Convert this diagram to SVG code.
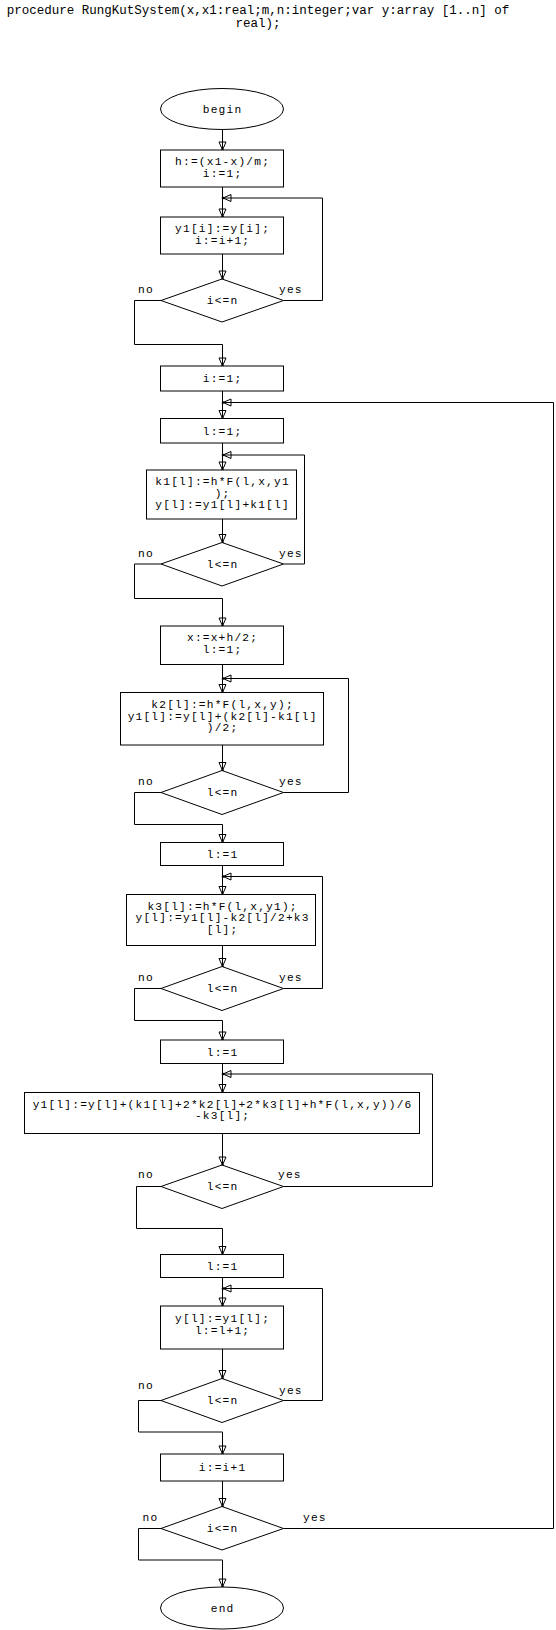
<svg xmlns="http://www.w3.org/2000/svg" width="556" height="1630" viewBox="0 0 556 1630">
<style>
text{font-family:"Liberation Mono","Courier New",monospace;font-size:11.2px;letter-spacing:1.2px;fill:#000}
.t{font-size:12.5px;letter-spacing:0}
.c{text-anchor:middle}
.s{fill:#fff;stroke:#000;stroke-width:1}
.l{fill:none;stroke:#000;stroke-width:1}
.a{marker-end:url(#ar)}
</style>
<defs>
<marker id="ar" markerUnits="userSpaceOnUse" markerWidth="14" markerHeight="14" viewBox="-10 -7 14 14" refX="0" refY="0" orient="auto" overflow="visible">
<path d="M-8,-3.5 L0,0 L-8,3.5 Z" fill="none" stroke="#000" stroke-width="1"/>
<circle r="1.3" fill="#000"/>
</marker>
</defs>
<rect width="556" height="1630" fill="#fff"/>
<g id="title">
<text class="t c" x="258" y="13.5">procedure RungKutSystem(x,x1:real;m,n:integer;var y:array [1..n] of</text>
<text class="t c" x="258" y="27">real);</text>
</g>
<g id="connectors">
<path class="l a" d="M222.5,129.5V150"/>
<path class="l a" d="M222.5,187V217"/>
<path class="l a" d="M222.5,254V279"/>
<path class="l a" d="M283.5,300.5H322.5V198H223"/>
<path class="l a" d="M161,300.5H134.5V344.5H222.5V366"/>
<path class="l a" d="M222.5,391V418.5"/>
<path class="l a" d="M222.5,443V470"/>
<path class="l a" d="M222.5,519V542.5"/>
<path class="l a" d="M283.5,564H304.5V455H223"/>
<path class="l a" d="M161,564H134.5V598.5H222.5V626"/>
<path class="l a" d="M222.5,664.5V692.5"/>
<path class="l a" d="M222.5,745V770.5"/>
<path class="l a" d="M283.5,792.5H348.5V678.5H223"/>
<path class="l a" d="M161,792.5H134.5V824.5H222.5V842.5"/>
<path class="l a" d="M222.5,865.5V894.5"/>
<path class="l a" d="M222.5,945.5V966.5"/>
<path class="l a" d="M283.5,988.5H322.5V876.5H223"/>
<path class="l a" d="M161,988.5H134.5V1020.5H222.5V1040"/>
<path class="l a" d="M222.5,1063.5V1092.5"/>
<path class="l a" d="M222.5,1133.5V1165"/>
<path class="l a" d="M283.5,1186.5H432.5V1074H223"/>
<path class="l a" d="M161,1186.5H136.5V1228.5H222.5V1254.5"/>
<path class="l a" d="M222.5,1277.5V1306"/>
<path class="l a" d="M222.5,1349V1378.5"/>
<path class="l a" d="M283.5,1400.5H322.5V1288.5H223"/>
<path class="l a" d="M161,1400.5H138.5V1432H222.5V1454"/>
<path class="l a" d="M222.5,1481V1506.5"/>
<path class="l a" d="M283.5,1528.5H553.5V402.5H223"/>
<path class="l a" d="M161,1528.5H138.5V1560H222.5V1587"/>
</g>
<g id="begin">
<ellipse class="s" cx="222" cy="109" rx="61.5" ry="20.5"/>
<text class="c" x="222.6" y="113">begin</text>
</g>
<g id="n1">
<rect class="s" x="160.5" y="150" width="123" height="37"/>
<text class="c" x="222.6" y="165">h:=(x1-x)/m;</text>
<text class="c" x="222.6" y="176.5">i:=1;</text>
</g>
<g id="n2">
<rect class="s" x="160.5" y="217" width="123" height="37"/>
<text class="c" x="222.6" y="232">y1[i]:=y[i];</text>
<text class="c" x="222.6" y="243.5">i:=i+1;</text>
</g>
<g id="d1">
<polygon class="s" points="222,279 283.5,300.5 222,322 161,300.5"/>
<text class="c" x="222.6" y="304">i&lt;=n</text>
<text x="138" y="292.5">no</text>
<text x="279" y="292.5">yes</text>
</g>
<g id="n3">
<rect class="s" x="160.5" y="366" width="123" height="25"/>
<text class="c" x="222.6" y="382">i:=1;</text>
</g>
<g id="n4">
<rect class="s" x="160.5" y="418.5" width="123" height="24.5"/>
<text class="c" x="222.6" y="434.5">l:=1;</text>
</g>
<g id="n5">
<rect class="s" x="146.5" y="470" width="150" height="49"/>
<text class="c" x="222.6" y="485">k1[l]:=h*F(l,x,y1</text>
<text class="c" x="222.6" y="496.5">);</text>
<text class="c" x="222.6" y="508">y[l]:=y1[l]+k1[l]</text>
</g>
<g id="d2">
<polygon class="s" points="222,542.5 283.5,564 222,586 161,564"/>
<text class="c" x="222.6" y="567.5">l&lt;=n</text>
<text x="138" y="556.5">no</text>
<text x="279" y="556.5">yes</text>
</g>
<g id="n6">
<rect class="s" x="160.5" y="626" width="123" height="38.5"/>
<text class="c" x="222.6" y="641">x:=x+h/2;</text>
<text class="c" x="222.6" y="652.5">l:=1;</text>
</g>
<g id="n7">
<rect class="s" x="120.5" y="692.5" width="203" height="52.5"/>
<text class="c" x="222.6" y="708">k2[l]:=h*F(l,x,y);</text>
<text class="c" x="222.6" y="719.5">y1[l]:=y[l]+(k2[l]-k1[l]</text>
<text class="c" x="222.6" y="731">)/2;</text>
</g>
<g id="d3">
<polygon class="s" points="222,770.5 283.5,792.5 222,814.5 161,792.5"/>
<text class="c" x="222.6" y="796">l&lt;=n</text>
<text x="138" y="785">no</text>
<text x="279" y="785">yes</text>
</g>
<g id="n8">
<rect class="s" x="160.5" y="842.5" width="123" height="23"/>
<text class="c" x="222.6" y="858">l:=1</text>
</g>
<g id="n9">
<rect class="s" x="126.5" y="894.5" width="189" height="51"/>
<text class="c" x="222.6" y="909.5">k3[l]:=h*F(l,x,y1);</text>
<text class="c" x="222.6" y="921">y[l]:=y1[l]-k2[l]/2+k3</text>
<text class="c" x="222.6" y="932.5">[l];</text>
</g>
<g id="d4">
<polygon class="s" points="222,966.5 283.5,988.5 222,1010.5 161,988.5"/>
<text class="c" x="222.6" y="992">l&lt;=n</text>
<text x="138" y="981">no</text>
<text x="279" y="981">yes</text>
</g>
<g id="n10">
<rect class="s" x="160.5" y="1040" width="123" height="23.5"/>
<text class="c" x="222.6" y="1055.5">l:=1</text>
</g>
<g id="n11">
<rect class="s" x="24.5" y="1092.5" width="395" height="41"/>
<text class="c" x="222.6" y="1107.5">y1[l]:=y[l]+(k1[l]+2*k2[l]+2*k3[l]+h*F(l,x,y))/6</text>
<text class="c" x="222.6" y="1119">-k3[l];</text>
</g>
<g id="d5">
<polygon class="s" points="222,1165 283.5,1186.5 222,1208.5 161,1186.5"/>
<text class="c" x="222.6" y="1190">l&lt;=n</text>
<text x="138" y="1178">no</text>
<text x="278" y="1178">yes</text>
</g>
<g id="n12">
<rect class="s" x="160.5" y="1254.5" width="123" height="23"/>
<text class="c" x="222.6" y="1270">l:=1</text>
</g>
<g id="n13">
<rect class="s" x="160.5" y="1306" width="123" height="43"/>
<text class="c" x="222.6" y="1322">y[l]:=y1[l];</text>
<text class="c" x="222.6" y="1333.5">l:=l+1;</text>
</g>
<g id="d6">
<polygon class="s" points="222,1378.5 283.5,1400.5 222,1422.5 161,1400.5"/>
<text class="c" x="222.6" y="1404">l&lt;=n</text>
<text x="138" y="1388.5">no</text>
<text x="279" y="1393.5">yes</text>
</g>
<g id="n14">
<rect class="s" x="160.5" y="1454" width="123" height="27"/>
<text class="c" x="222.6" y="1471">i:=i+1</text>
</g>
<g id="d7">
<polygon class="s" points="222,1506.5 283.5,1528.5 222,1550 161,1528.5"/>
<text class="c" x="222.6" y="1532">i&lt;=n</text>
<text x="142.5" y="1521">no</text>
<text x="303" y="1521">yes</text>
</g>
<g id="end">
<ellipse class="s" cx="222" cy="1608" rx="61.5" ry="21"/>
<text class="c" x="222.6" y="1612">end</text>
</g>
</svg>
